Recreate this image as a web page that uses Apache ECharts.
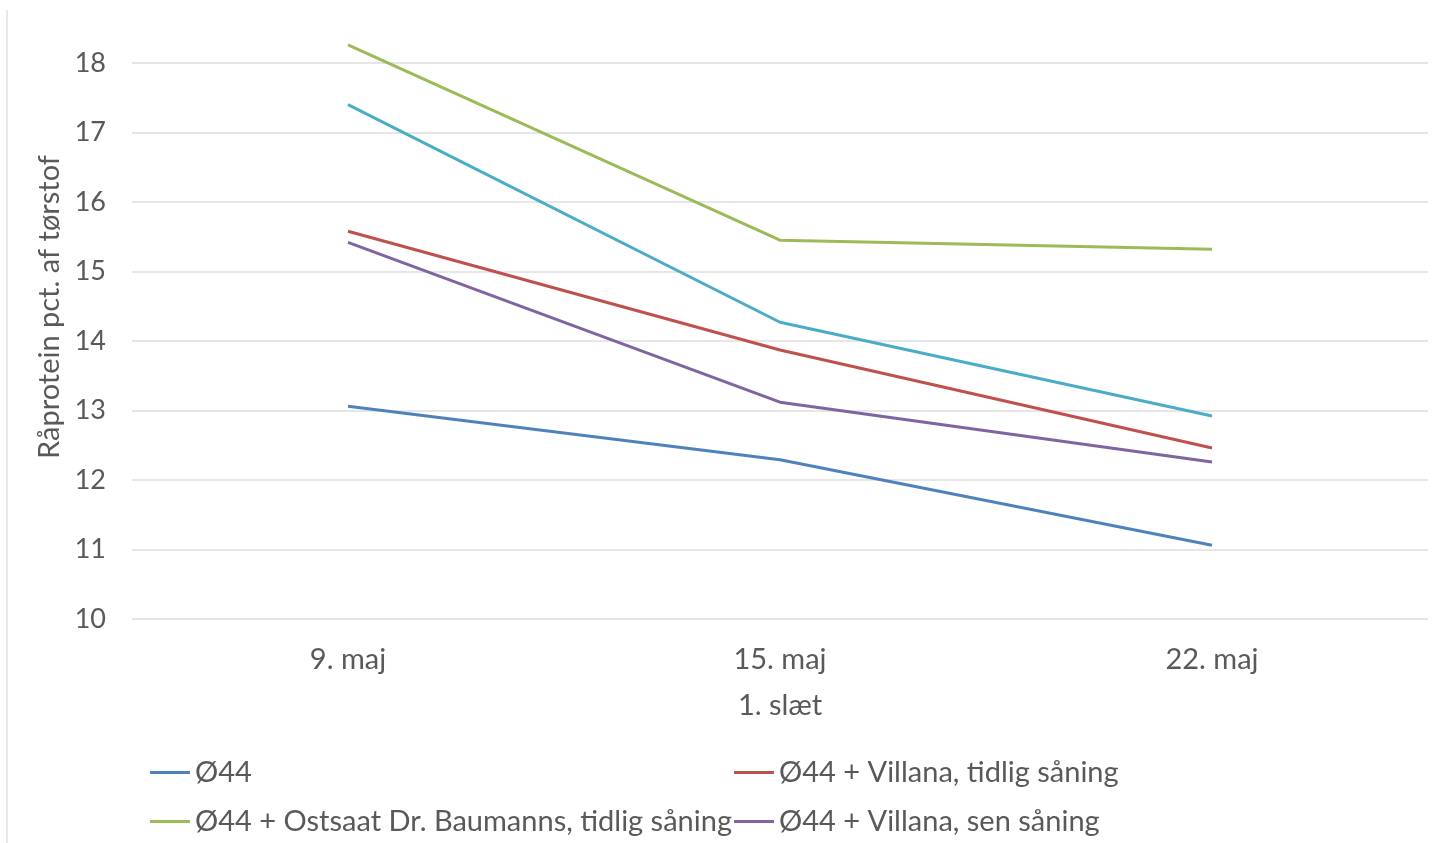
<!DOCTYPE html>
<html>
<head>
<meta charset="utf-8">
<script src="https://cdn.jsdelivr.net/npm/echarts@6/dist/echarts.min.js"></script>
<style>html,body{margin:0;padding:0;background:#fff}#c{width:1435px;height:843px}</style>
</head>
<body>
<div id="c"></div>
<script>
const categories = ['9. maj', '15. maj', '22. maj'];
const yTicks = [10, 11, 12, 13, 14, 15, 16, 17, 18];
const nameO44 = 'Ø44';
const nameVillanaEarly = 'Ø44 + Villana, tidlig såning';
const nameOstsaatEarly = 'Ø44 + Ostsaat Dr. Baumanns, tidlig såning';
const nameVillanaLate = 'Ø44 + Villana, sen såning';
const nameOstsaatLate = 'Ø44 + Ostsaat Dr. Baumanns, sen såning';
const o44 = [13.06, 12.29, 11.06];
const villanaEarly = [15.58, 13.87, 12.46];
const ostsaatEarly = [18.26, 15.45, 15.32];
const ostsaatLate = [17.40, 14.27, 12.92];
const villanaLate = [15.42, 13.12, 12.26];

const font = 'Lato, "Open Sans", sans-serif';
const chart = echarts.init(document.getElementById('c'));
function ser(name, data, color) {
  return { name, type: 'line', data, symbol: 'none', clip: false, lineStyle: { width: 3, color }, itemStyle: { color }, animation: false };
}
const legendBase = { orient: 'vertical', top: 753, icon: 'rect', itemWidth: 40, itemHeight: 3, itemGap: 20,
  textStyle: { fontFamily: font, fontSize: 29, color: '#595959' } };
chart.setOption({
  animation: false,
  grid: { left: 132, right: 7, top: 63, bottom: 224 },
  legend: [
    Object.assign({}, legendBase, { data: [nameO44, nameOstsaatEarly], left: 145 }),
    Object.assign({}, legendBase, { data: [nameVillanaEarly, nameVillanaLate], left: 729 })
  ],
  xAxis: {
    type: 'category', data: categories, boundaryGap: true,
    name: '1. slæt', nameLocation: 'middle', nameGap: 72,
    nameTextStyle: { fontFamily: font, fontSize: 29, color: '#595959' },
    axisLine: { show: false }, axisTick: { show: false },
    axisLabel: { fontFamily: font, fontSize: 29, color: '#595959', margin: 26 }
  },
  yAxis: {
    type: 'value', min: yTicks[0], max: yTicks[yTicks.length - 1], interval: 1,
    name: 'Råprotein pct. af tørstof', nameLocation: 'middle', nameGap: 64,
    nameTextStyle: { fontFamily: font, fontSize: 29, color: '#595959', padding: [0, 0, 0, 68] },
    axisLine: { show: false }, axisTick: { show: false },
    axisLabel: { fontFamily: font, fontSize: 27, color: '#595959', margin: 26 },
    splitLine: { lineStyle: { color: '#e6e6e6', width: 2 } }
  },
  series: [
    ser(nameO44, o44, '#4f81bd'),
    ser(nameVillanaEarly, villanaEarly, '#c0504d'),
    ser(nameOstsaatEarly, ostsaatEarly, '#9bbb59'),
    ser(nameVillanaLate, villanaLate, '#8064a2'),
    ser(nameOstsaatLate, ostsaatLate, '#4bacc6')
  ],
  graphic: [
    { type: 'line', shape: { x1: 7, y1: 10, x2: 7, y2: 843 }, style: { stroke: '#e8e8e8', lineWidth: 2 } }
  ]
});
</script>
</body>
</html>
